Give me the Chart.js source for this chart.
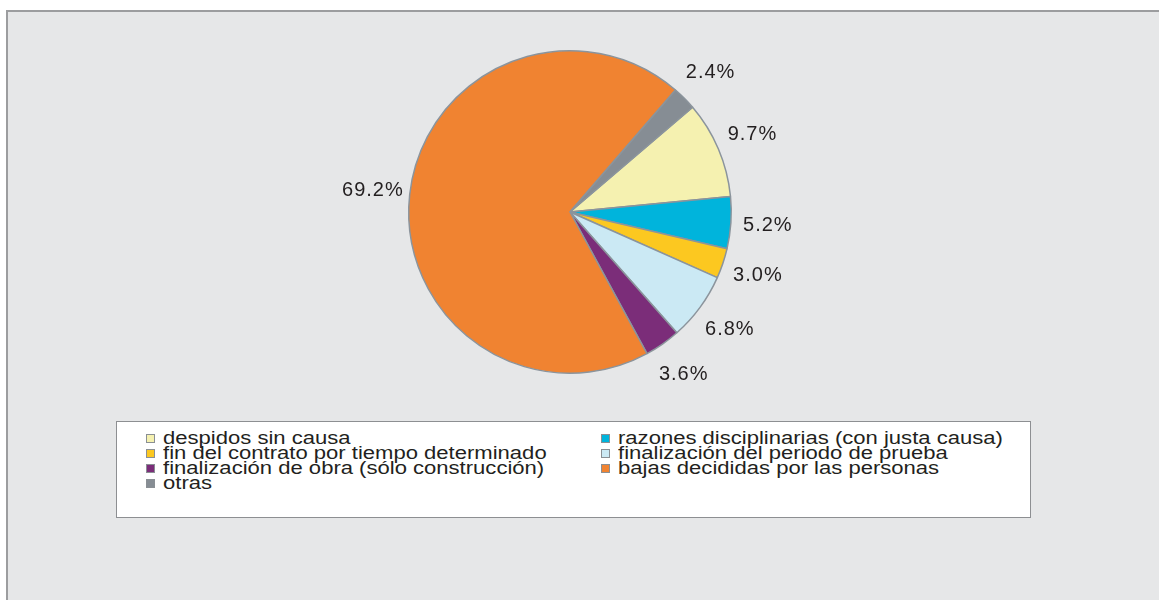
<!DOCTYPE html>
<html>
<head>
<meta charset="utf-8">
<script src="https://cdn.jsdelivr.net/npm/chart.js@4.4.0/dist/chart.umd.min.js"></script>
<style>
    body { margin: 0; background: #ffffff; font-family: "Liberation Sans", Arial, sans-serif; }
    #panel { position: absolute; left: 6px; top: 10px; width: 1200px; height: 640px; background: #e6e7e8; border-top: 2px solid #9c9d9f; border-left: 2px solid #9c9d9f; }
    #wrap { position: absolute; left: 0; top: 0; width: 1159px; height: 600px; }
    #legendBox { position: absolute; left: 116px; top: 421px; width: 913px; height: 95px; background: #ffffff; border: 1px solid #8d8f92; }
    #legendBox ul { list-style: none; margin: 0; padding: 0; position: absolute; left: 29px; top: 9px; width: 880px; display: grid; grid-template-columns: 455px 420px; }
    #legendBox li { font-size: 17.5px; line-height: 15px; height: 15px; color: #231f20; white-space: nowrap; }
    #legendBox li span.box { display: inline-block; width: 7px; height: 7px; border: 1px solid #8a8f94; margin-right: 8px; vertical-align: 1px; }
    #legendBox li span.txt { display: inline-block; transform: scaleX(1.26); transform-origin: left center; }
</style>
</head>
<body>
<div id="panel"></div>
<div id="wrap"><canvas id="pieChart" width="1159" height="600"></canvas></div>
<div id="legendBox"><ul id="legendList"></ul></div>
<script>
const categories = ['despidos sin causa', 'razones disciplinarias (con justa causa)', 'fin del contrato por tiempo determinado',
    'finalización del periodo de prueba', 'finalización de obra (sólo construcción)', 'bajas decididas por las personas', 'otras'];
const shares = [9.7, 5.2, 3.0, 6.8, 3.6, 69.2, 2.4];
const percentLabels = ['9.7%', '5.2%', '3.0%', '6.8%', '3.6%', '69.2%', '2.4%'];
const colours = ['#f5f1b0', '#00b4dc', '#fcc820', '#cbe9f4', '#7b2d79', '#f08331', '#868d94'];

// percentages drawn just outside each slice
const outsideLabels = {
    id: 'outsideLabels',
    afterDatasetsDraw(chart) {
        const ctx = chart.ctx;
        const arcs = chart.getDatasetMeta(0).data;
        ctx.save();
        ctx.font = '20px "Liberation Sans", Arial, sans-serif';
        ctx.letterSpacing = '1px';
        ctx.fillStyle = '#231f20';
        ctx.textAlign = 'center';
        ctx.textBaseline = 'middle';
        arcs.forEach((arc, i) => {
            const mid = (arc.startAngle + arc.endAngle) / 2;
            const r = arc.outerRadius + 37;
            ctx.fillText(percentLabels[i], arc.x + Math.cos(mid) * r, arc.y + Math.sin(mid) * r);
        });
        ctx.restore();
    }
};

const chart = new Chart('pieChart', {
    type: 'pie',
    data: {
        labels: categories,
        datasets: [{
            data: shares,
            backgroundColor: colours,
            borderColor: '#8b949c',
            borderWidth: 1.5
        }]
    },
    options: {
        responsive: false,
        animation: false,
        rotation: 49.5,
        layout: { padding: { top: 50, bottom: 226, left: 408, right: 427 } },
        plugins: {
            legend: { display: false },
            tooltip: { enabled: false }
        }
    },
    plugins: [outsideLabels]
});

// legend in two columns, same order as the original (row by row)
const list = document.getElementById('legendList');
categories.forEach((name, i) => {
    const li = document.createElement('li');
    li.innerHTML = `<span class="box" style="background:${colours[i]}"></span><span class="txt">${name}</span>`;
    list.appendChild(li);
});
</script>
</body>
</html>
